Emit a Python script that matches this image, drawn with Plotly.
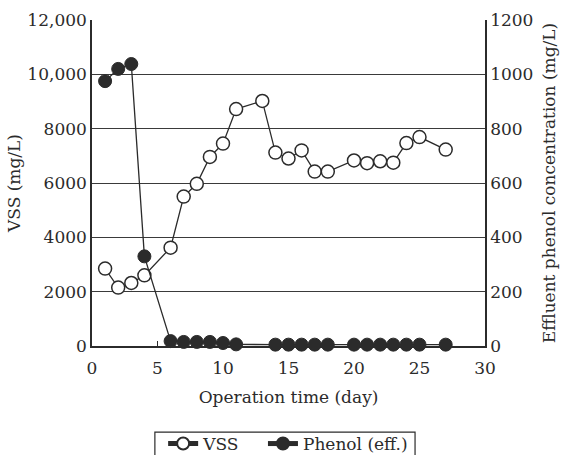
import plotly.graph_objects as go

days_vss = [1, 2, 3, 4, 6, 7, 8, 9, 10, 11, 13, 14, 15, 16, 17, 18, 20, 21, 22, 23, 24, 25, 27]
vss = [2850, 2150, 2320, 2600, 3620, 5500, 5970, 6960, 7450, 8720, 9020, 7120, 6900, 7200, 6420, 6420,
       6830, 6730, 6800, 6750, 7470, 7690, 7230]

days_phenol = [1, 2, 3, 4, 6, 7, 8, 9, 10, 11, 14, 15, 16, 17, 18, 20, 21, 22, 23, 24, 25, 27]
phenol = [975, 1020, 1038, 330, 18, 15, 15, 15, 11, 6, 5, 5, 5, 5, 5, 5, 5, 5, 5, 5, 5, 5]

y1_ticks = [0, 2000, 4000, 6000, 8000, 10000, 12000]
y1_labels = ["0", "2000", "4000", "6000", "8000", "10,000", "12,000"]
y2_ticks = [0, 200, 400, 600, 800, 1000, 1200]
x_ticks = [0, 5, 10, 15, 20, 25, 30]

FONT = "DejaVu Serif, serif"
INK = "#2b2b2b"
FS = 17

fig = go.Figure()
fig.add_trace(go.Scatter(
    x=days_vss, y=vss, name="VSS", mode="lines+markers", cliponaxis=False,
    line=dict(color=INK, width=1.3),
    marker=dict(symbol="circle", size=13, color="white", line=dict(color=INK, width=1.5)),
    yaxis="y", legend="legend"))
fig.add_trace(go.Scatter(
    x=days_phenol, y=phenol, name="Phenol (eff.)", mode="lines+markers", cliponaxis=False,
    line=dict(color=INK, width=1.3),
    marker=dict(symbol="circle", size=13, color=INK, line=dict(color=INK, width=1)),
    yaxis="y2", legend="legend2"))

# legend frame (open at the bottom edge of the picture, as in the reference)
fig.add_shape(type="rect", xref="paper", yref="paper",
              x0=0.160, x1=0.822, y0=-0.264, y1=-0.40,
              line=dict(color=INK, width=1.2), fillcolor="white", layer="below")

leg_common = dict(orientation="h", yanchor="top", y=-0.2454, xanchor="left",
                  borderwidth=0, bgcolor="rgba(0,0,0,0)",
                  font=dict(family=FONT, size=FS, color=INK),
                  itemwidth=30, itemsizing="constant")

fig.update_layout(
    width=565, height=455,
    margin=dict(l=92, r=80, t=20, b=109, autoexpand=False),
    paper_bgcolor="white", plot_bgcolor="white",
    font=dict(family=FONT, size=FS, color=INK),
    showlegend=True,
    legend=dict(x=0.181, **leg_common),
    legend2=dict(x=0.435, **leg_common),
    xaxis=dict(range=[0, 30], tickvals=x_ticks, ticks="inside", ticklen=5, tickwidth=1.2,
               tickcolor=INK, showline=True, linecolor=INK, linewidth=1.5, mirror=False,
               showgrid=False, zeroline=False, ticklabelstandoff=6,
               title=dict(text="Operation time (day)", standoff=14,
                          font=dict(family=FONT, size=FS, color=INK))),
    yaxis=dict(range=[0, 12000], tickvals=y1_ticks, ticktext=y1_labels, ticks="",
               showline=True, linecolor=INK, linewidth=1.5, mirror=True,
               showgrid=True, gridcolor="#3a3a3a", gridwidth=1.3, zeroline=False,
               title=dict(text="VSS (mg/L)", standoff=2,
                          font=dict(family=FONT, size=FS, color=INK))),
    yaxis2=dict(range=[0, 1200], tickvals=y2_ticks, overlaying="y", side="right",
                ticks="", showline=True, linecolor=INK, linewidth=1.5,
                showgrid=False, zeroline=False,
                title=dict(text="Effluent phenol concentration (mg/L)", standoff=11,
                           font=dict(family=FONT, size=FS, color=INK))),
)

fig.write_html("out.html")
